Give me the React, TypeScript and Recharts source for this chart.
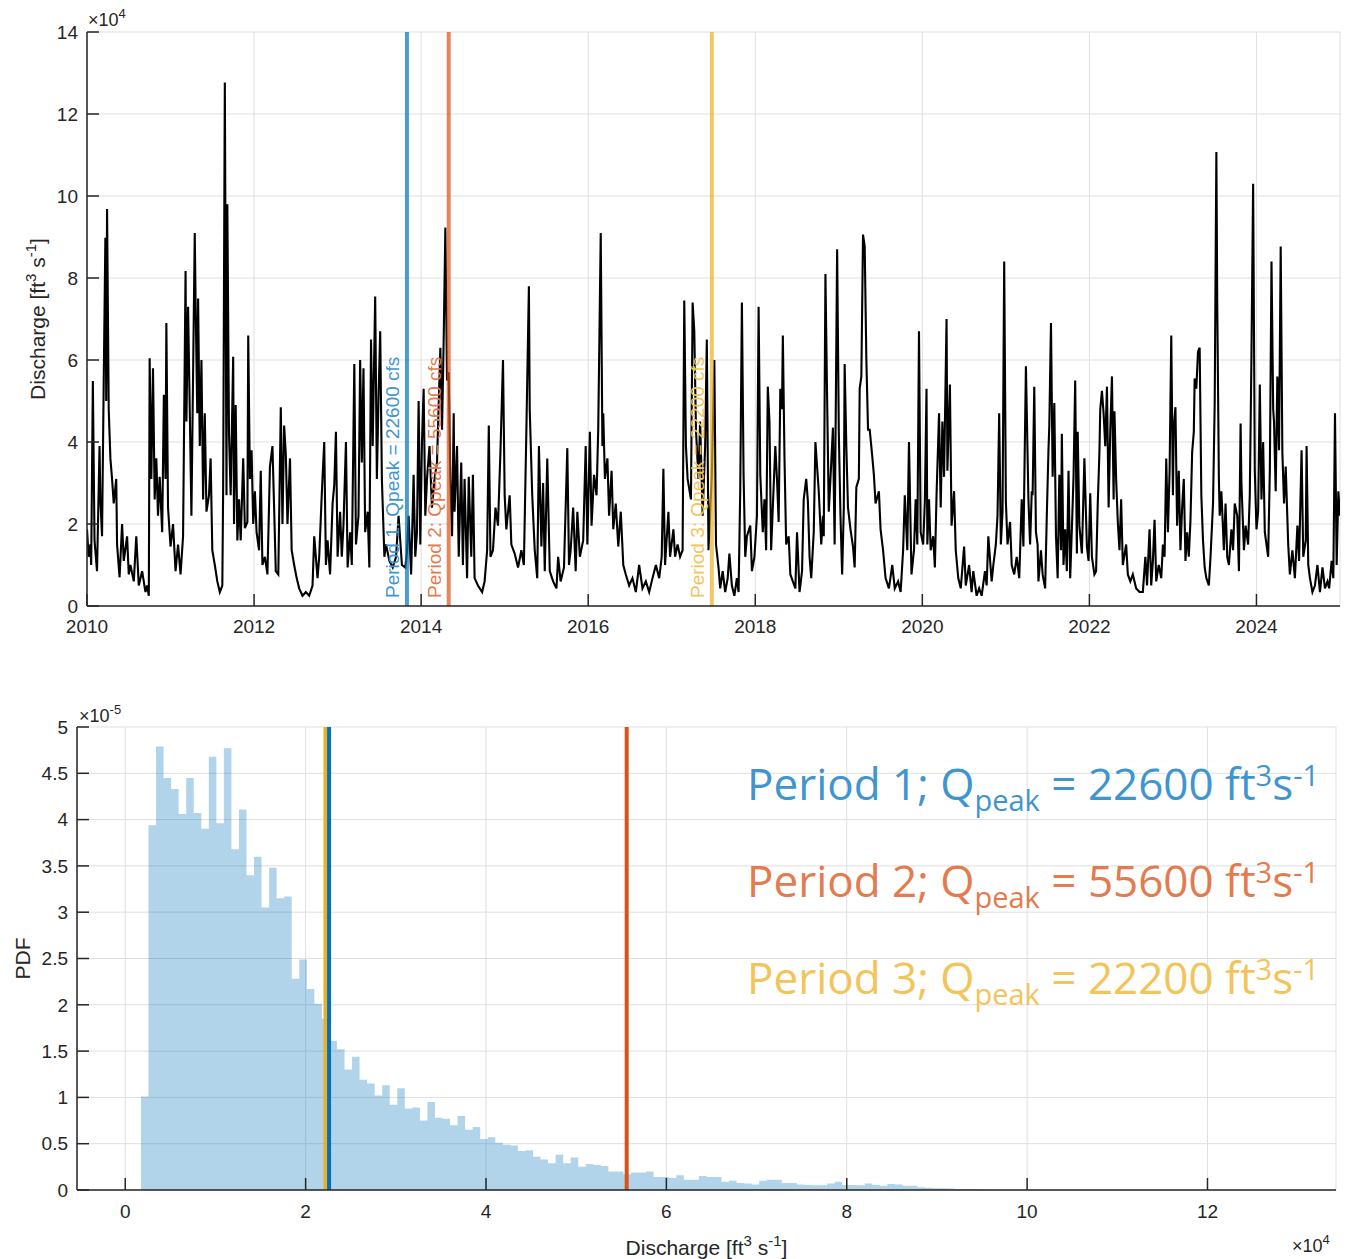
import { LineChart, Line, ComposedChart, Area, XAxis, YAxis, CartesianGrid, ReferenceLine } from 'recharts';

// ---- top panel: daily discharge (x = decimal year, y = discharge in 10^4 ft3/s)
const YEAR_TICKS = [2010, 2012, 2014, 2016, 2018, 2020, 2022, 2024];
const Q_TICKS = [0, 2, 4, 6, 8, 10, 12, 14];
const HYDRO: [number, number][] = [
  [2010.00,1.87],[2010.02,1.2],[2010.04,1.5],[2010.05,1.0],[2010.07,5.49],[2010.09,1.6],[2010.12,0.85],[2010.15,3.9],
  [2010.16,2.6],[2010.18,1.7],[2010.20,5.45],[2010.22,8.98],[2010.23,5.0],[2010.24,9.68],[2010.26,4.8],[2010.28,3.6],
  [2010.30,3.1],[2010.32,2.5],[2010.35,3.1],[2010.36,1.5],[2010.39,0.7],[2010.42,2.0],[2010.44,1.1],[2010.48,1.7],
  [2010.50,0.77],[2010.52,1.0],[2010.56,0.6],[2010.59,1.7],[2010.62,0.5],[2010.66,0.85],[2010.70,0.34],[2010.72,0.5],
  [2010.74,0.25],[2010.75,6.04],[2010.77,3.1],[2010.79,5.8],[2010.81,2.6],[2010.83,3.6],[2010.85,2.2],[2010.87,3.15],
  [2010.90,1.8],[2010.92,5.15],[2010.94,3.1],[2010.95,6.9],[2010.97,2.4],[2011.00,1.45],[2011.03,2.0],[2011.06,0.85],
  [2011.09,1.5],[2011.12,0.77],[2011.15,1.7],[2011.18,8.17],[2011.19,4.5],[2011.21,7.3],[2011.23,4.8],[2011.25,2.2],
  [2011.29,9.1],[2011.30,7.4],[2011.32,4.7],[2011.33,7.5],[2011.35,3.9],[2011.37,6.0],[2011.39,2.6],[2011.41,4.7],
  [2011.43,2.3],[2011.46,2.7],[2011.48,3.6],[2011.50,1.36],[2011.53,1.0],[2011.56,0.6],[2011.59,0.34],[2011.62,0.5],
  [2011.63,2.9],[2011.65,12.77],[2011.67,2.7],[2011.68,9.8],[2011.70,4.2],[2011.72,2.7],[2011.75,6.08],[2011.76,2.0],
  [2011.78,4.9],[2011.80,1.6],[2011.82,2.6],[2011.84,1.6],[2011.87,3.6],[2011.89,1.9],[2011.92,2.05],[2011.93,6.6],
  [2011.95,3.1],[2011.97,3.8],[2011.99,2.0],[2012.01,2.8],[2012.03,1.8],[2012.06,1.36],[2012.08,3.3],[2012.10,1.0],
  [2012.13,1.2],[2012.16,0.77],[2012.19,3.4],[2012.22,3.9],[2012.24,2.4],[2012.26,0.85],[2012.29,0.77],[2012.32,4.85],
  [2012.34,2.0],[2012.36,4.4],[2012.38,3.7],[2012.40,2.0],[2012.43,3.6],[2012.45,1.36],[2012.48,1.0],[2012.51,0.68],
  [2012.54,0.43],[2012.58,0.25],[2012.62,0.34],[2012.66,0.25],[2012.70,0.5],[2012.72,1.7],[2012.76,0.68],[2012.78,1.2],
  [2012.81,2.7],[2012.84,4.0],[2012.86,1.0],[2012.88,1.6],[2012.91,0.77],[2012.94,2.5],[2012.96,2.95],[2012.98,4.25],
  [2013.00,1.2],[2013.03,2.3],[2013.05,1.2],[2013.07,1.96],[2013.10,4.0],[2013.12,0.94],[2013.15,1.8],[2013.17,1.0],
  [2013.20,5.9],[2013.22,1.5],[2013.25,2.2],[2013.27,6.0],[2013.29,3.5],[2013.31,5.8],[2013.33,1.8],[2013.36,2.3],
  [2013.38,0.94],[2013.40,6.5],[2013.42,3.9],[2013.45,7.55],[2013.47,3.1],[2013.49,5.1],[2013.51,6.7],[2013.53,3.1],
  [2013.56,1.2],[2013.58,1.5],[2013.62,1.1],[2013.66,0.94],[2013.70,1.2],[2013.73,2.2],[2013.77,1.0],[2013.81,0.94],
  [2013.83,1.3],[2013.85,2.2],[2013.88,0.77],[2013.91,3.2],[2013.93,1.2],[2013.95,1.8],[2013.97,5.0],[2013.99,1.5],
  [2014.01,4.0],[2014.03,5.3],[2014.05,2.2],[2014.07,3.1],[2014.10,3.9],[2014.13,2.4],[2014.16,3.1],[2014.19,3.5],
  [2014.23,6.3],[2014.25,4.3],[2014.27,6.5],[2014.29,9.23],[2014.31,5.5],[2014.33,5.7],[2014.35,3.1],[2014.37,1.7],
  [2014.39,4.7],[2014.40,2.3],[2014.43,3.9],[2014.45,1.2],[2014.48,3.5],[2014.50,1.0],[2014.52,3.1],[2014.55,0.68],
  [2014.57,3.15],[2014.60,1.2],[2014.62,3.2],[2014.64,0.68],[2014.68,0.5],[2014.73,0.34],[2014.76,0.6],[2014.79,1.36],
  [2014.81,4.4],[2014.83,1.2],[2014.86,1.36],[2014.89,2.4],[2014.92,1.96],[2014.95,3.8],[2014.98,6.0],[2015.00,2.7],
  [2015.02,1.87],[2015.06,2.7],[2015.08,1.5],[2015.12,1.28],[2015.16,0.94],[2015.20,1.36],[2015.23,1.0],[2015.26,4.3],
  [2015.29,7.8],[2015.30,4.8],[2015.33,2.7],[2015.36,1.36],[2015.39,0.68],[2015.41,3.9],[2015.44,1.45],[2015.46,3.0],
  [2015.48,0.85],[2015.51,3.6],[2015.54,0.85],[2015.58,0.6],[2015.62,0.43],[2015.64,1.2],[2015.67,0.6],[2015.71,0.94],
  [2015.75,3.85],[2015.77,1.0],[2015.79,1.36],[2015.82,2.4],[2015.85,0.85],[2015.87,2.3],[2015.90,1.2],[2015.94,1.6],
  [2015.97,3.9],[2015.99,1.5],[2016.02,4.25],[2016.04,1.96],[2016.07,3.2],[2016.10,2.7],[2016.12,4.3],[2016.15,9.1],
  [2016.17,3.9],[2016.18,4.7],[2016.20,3.1],[2016.23,3.6],[2016.25,2.2],[2016.28,3.3],[2016.30,1.87],[2016.33,2.5],
  [2016.36,1.45],[2016.39,2.3],[2016.42,1.0],[2016.45,0.77],[2016.49,0.5],[2016.53,0.68],[2016.57,0.34],[2016.61,1.0],
  [2016.65,0.43],[2016.69,0.6],[2016.73,0.34],[2016.77,0.68],[2016.81,1.0],[2016.85,0.68],[2016.88,1.2],[2016.90,3.35],
  [2016.92,1.0],[2016.96,2.3],[2016.98,1.2],[2017.02,1.87],[2017.04,1.2],[2017.07,1.5],[2017.10,1.2],[2017.13,1.36],
  [2017.15,7.45],[2017.17,3.9],[2017.19,3.1],[2017.23,2.6],[2017.25,7.4],[2017.27,6.7],[2017.29,4.3],[2017.32,3.1],
  [2017.34,4.5],[2017.37,2.2],[2017.40,3.9],[2017.42,6.5],[2017.44,1.36],[2017.48,3.2],[2017.51,6.0],[2017.53,1.5],
  [2017.56,0.94],[2017.58,0.43],[2017.61,0.85],[2017.64,0.34],[2017.67,0.68],[2017.69,1.28],[2017.72,0.5],[2017.75,0.25],
  [2017.78,0.68],[2017.80,0.34],[2017.82,2.8],[2017.84,7.4],[2017.86,3.2],[2017.88,1.2],[2017.90,1.7],[2017.94,1.96],
  [2017.96,0.85],[2017.99,1.2],[2018.02,2.2],[2018.04,7.3],[2018.06,3.2],[2018.09,1.8],[2018.11,2.6],[2018.13,1.36],
  [2018.15,5.35],[2018.17,4.5],[2018.19,1.36],[2018.21,2.4],[2018.24,3.9],[2018.26,3.1],[2018.28,2.05],[2018.30,5.3],
  [2018.32,4.8],[2018.33,6.6],[2018.35,3.6],[2018.37,1.5],[2018.40,1.7],[2018.42,0.77],[2018.45,0.6],[2018.48,0.43],
  [2018.50,1.8],[2018.53,0.34],[2018.56,0.85],[2018.58,2.6],[2018.61,3.1],[2018.63,2.55],[2018.65,1.2],[2018.67,0.68],
  [2018.70,1.8],[2018.72,4.0],[2018.74,3.4],[2018.76,2.8],[2018.79,1.5],[2018.81,2.2],[2018.82,1.7],[2018.84,8.1],
  [2018.86,5.1],[2018.88,2.3],[2018.90,3.1],[2018.93,4.35],[2018.95,1.5],[2018.98,8.7],[2019.00,4.25],[2019.02,2.2],
  [2019.04,0.77],[2019.06,2.4],[2019.07,5.9],[2019.09,3.9],[2019.11,2.4],[2019.14,1.87],[2019.17,1.45],[2019.19,0.94],
  [2019.21,2.9],[2019.24,3.1],[2019.25,5.3],[2019.27,5.6],[2019.29,9.06],[2019.31,8.77],[2019.33,6.0],[2019.35,4.3],
  [2019.37,4.3],[2019.40,3.66],[2019.42,3.2],[2019.44,2.5],[2019.48,2.8],[2019.50,1.87],[2019.53,1.36],[2019.56,0.68],
  [2019.60,0.43],[2019.64,1.0],[2019.67,0.43],[2019.71,0.6],[2019.74,0.34],[2019.77,1.36],[2019.79,2.7],[2019.82,1.36],
  [2019.84,4.0],[2019.87,0.77],[2019.90,1.36],[2019.92,2.6],[2019.94,1.5],[2019.96,6.7],[2019.98,1.8],[2020.01,1.5],
  [2020.03,2.55],[2020.05,5.3],[2020.06,1.5],[2020.08,2.6],[2020.10,1.36],[2020.13,1.7],[2020.15,0.94],[2020.17,2.7],
  [2020.20,4.7],[2020.22,2.4],[2020.24,4.5],[2020.26,3.15],[2020.29,7.0],[2020.30,3.3],[2020.33,5.4],[2020.35,1.96],
  [2020.38,2.8],[2020.40,1.36],[2020.43,0.68],[2020.46,0.43],[2020.50,1.45],[2020.52,0.5],[2020.56,1.0],[2020.59,0.34],
  [2020.61,0.85],[2020.65,0.25],[2020.68,0.43],[2020.71,0.25],[2020.75,0.85],[2020.77,0.5],[2020.79,1.7],[2020.83,0.6],
  [2020.85,1.0],[2020.88,1.5],[2020.90,2.2],[2020.92,4.7],[2020.94,1.5],[2020.96,2.3],[2020.98,8.4],[2021.00,2.55],
  [2021.02,1.5],[2021.05,2.05],[2021.07,1.0],[2021.10,0.77],[2021.13,1.2],[2021.16,0.68],[2021.19,2.6],[2021.21,1.45],
  [2021.24,5.85],[2021.27,2.6],[2021.29,1.5],[2021.31,2.8],[2021.32,2.7],[2021.34,5.35],[2021.36,1.8],[2021.38,1.5],
  [2021.39,0.6],[2021.42,1.36],[2021.44,0.77],[2021.47,0.43],[2021.49,2.2],[2021.51,3.8],[2021.52,4.4],[2021.54,6.9],
  [2021.56,3.15],[2021.58,4.95],[2021.60,1.7],[2021.62,0.68],[2021.64,3.2],[2021.66,1.36],[2021.67,4.2],[2021.69,1.0],
  [2021.71,1.87],[2021.73,0.85],[2021.75,3.3],[2021.77,0.68],[2021.79,1.87],[2021.81,3.15],[2021.83,5.5],[2021.85,1.28],
  [2021.86,4.25],[2021.88,1.96],[2021.91,1.28],[2021.93,2.8],[2021.94,3.6],[2021.97,1.45],[2021.99,1.1],[2022.01,2.75],
  [2022.03,1.2],[2022.06,0.77],[2022.08,0.85],[2022.10,2.5],[2022.12,3.75],[2022.13,4.8],[2022.15,5.25],[2022.17,4.7],
  [2022.19,3.9],[2022.21,5.35],[2022.23,2.4],[2022.25,4.3],[2022.27,5.6],[2022.29,2.6],[2022.30,4.75],[2022.32,3.1],
  [2022.34,2.05],[2022.36,1.36],[2022.38,2.6],[2022.40,1.0],[2022.44,1.5],[2022.46,0.77],[2022.49,0.6],[2022.52,0.77],
  [2022.56,0.43],[2022.60,0.34],[2022.64,0.34],[2022.67,1.2],[2022.69,0.5],[2022.72,1.87],[2022.74,0.5],[2022.76,1.1],
  [2022.78,2.1],[2022.80,0.6],[2022.83,1.0],[2022.86,0.68],[2022.88,1.5],[2022.90,1.2],[2022.92,3.6],[2022.94,1.8],
  [2022.96,3.3],[2022.98,6.6],[2023.00,2.7],[2023.01,4.35],[2023.03,4.85],[2023.05,1.96],[2023.07,3.3],[2023.09,1.36],
  [2023.11,2.4],[2023.13,3.1],[2023.15,1.1],[2023.17,1.8],[2023.19,1.2],[2023.21,2.1],[2023.23,3.75],[2023.25,4.25],
  [2023.26,5.55],[2023.28,5.3],[2023.30,6.2],[2023.32,6.3],[2023.34,2.7],[2023.36,1.6],[2023.38,0.94],[2023.40,0.68],
  [2023.43,0.5],[2023.45,1.2],[2023.48,2.5],[2023.50,4.95],[2023.52,11.07],[2023.53,7.5],[2023.55,3.1],[2023.56,2.2],
  [2023.58,2.8],[2023.61,1.36],[2023.63,2.5],[2023.65,1.2],[2023.67,1.0],[2023.70,1.87],[2023.72,1.36],[2023.74,2.5],
  [2023.77,2.2],[2023.79,0.85],[2023.81,4.45],[2023.82,3.0],[2023.85,1.36],[2023.87,1.96],[2023.90,1.5],[2023.92,2.7],
  [2023.94,6.1],[2023.96,10.3],[2023.98,3.3],[2024.00,1.87],[2024.02,2.3],[2024.04,5.4],[2024.06,2.6],[2024.08,4.0],
  [2024.10,1.8],[2024.12,1.5],[2024.14,1.2],[2024.16,3.3],[2024.18,8.4],[2024.20,4.8],[2024.21,4.5],[2024.23,2.8],
  [2024.25,5.6],[2024.27,3.8],[2024.29,8.77],[2024.31,3.75],[2024.33,2.5],[2024.35,3.4],[2024.38,1.5],[2024.40,0.77],
  [2024.43,1.36],[2024.46,0.68],[2024.49,1.96],[2024.51,1.1],[2024.54,3.8],[2024.56,1.2],[2024.59,1.6],[2024.60,3.9],
  [2024.62,1.0],[2024.64,0.68],[2024.67,0.34],[2024.70,0.5],[2024.73,1.0],[2024.76,0.34],[2024.79,0.94],[2024.82,0.43],
  [2024.85,0.6],[2024.87,0.43],[2024.90,1.1],[2024.92,0.68],[2024.94,4.7],[2024.96,1.0],[2024.98,2.8],[2025.00,2.2],
];

// ---- the three periods
const PERIOD_NAMES = ['Period 1', 'Period 2', 'Period 3'];
const PERIOD_DATES = [2013.83, 2014.33, 2017.48];
const PERIOD_QPEAK = [22600, 55600, 22200];
const PERIOD_COLORS = ['#0072BD', '#D95319', '#EDB120'];
const PERIOD_TEXT_COLORS = ['#3F95CF', '#E37B4E', '#F2C45A'];

// ---- bottom panel: histogram of discharge (pdf in 10^-5 per ft3/s)
const BIN_START = 1740;
const BIN_WIDTH = 836;
const PDF_VALUES = [
  1.01, 3.94, 4.79, 4.45, 4.33, 4.06, 4.45, 4.07, 3.90, 4.68, 3.96, 4.77, 3.68, 4.11, 3.40, 3.60,
  3.05, 3.48, 3.15, 3.17, 2.28, 2.49, 2.17, 2.01, 1.85, 1.61, 1.52, 1.30, 1.44, 1.19, 1.15, 1.02,
  1.13, 0.92, 1.10, 0.88, 0.89, 0.75, 0.95, 0.78, 0.77, 0.70, 0.80, 0.65, 0.68, 0.55, 0.57, 0.51,
  0.49, 0.48, 0.42, 0.43, 0.36, 0.33, 0.29, 0.38, 0.29, 0.35, 0.25, 0.28, 0.27, 0.26, 0.20, 0.20,
  0.17, 0.19, 0.19, 0.20, 0.14, 0.14, 0.13, 0.16, 0.11, 0.11, 0.15, 0.14, 0.14, 0.09, 0.10, 0.075,
  0.07, 0.06, 0.10, 0.11, 0.11, 0.075, 0.075, 0.06, 0.055, 0.05, 0.05, 0.07, 0.09, 0.055, 0.055, 0.05,
  0.07, 0.055, 0.045, 0.065, 0.06, 0.045, 0.045, 0.03, 0.025, 0.02, 0.02, 0.015, 0.01, 0.01, 0.01, 0.005,
];
const PDF_TICKS = [0, 0.5, 1, 1.5, 2, 2.5, 3, 3.5, 4, 4.5, 5];
const DISCHARGE_TICKS = [0, 20000, 40000, 60000, 80000, 100000, 120000];

const FONT = "'Liberation Sans', Arial, Helvetica, sans-serif";
const INK = '#262626';
const GRID = '#DFDFDF';

const hydroData = HYDRO.map(([t, q]) => ({ t, q }));
const pdfData = [
  ...PDF_VALUES.map((v, i) => ({ x: BIN_START + i * BIN_WIDTH, pdf: v })),
  { x: BIN_START + PDF_VALUES.length * BIN_WIDTH, pdf: PDF_VALUES[PDF_VALUES.length - 1] },
];

function DischargeTitle({ x, y, rotate }: { x: number; y: number; rotate?: boolean }) {
  return (
    <text x={x} y={y} textAnchor="middle" fontSize={21} fill={INK}
      transform={rotate ? `rotate(-90 ${x} ${y})` : undefined}>
      Discharge [ft<tspan fontSize={15} dy={-9}>3</tspan><tspan dy={9}> s</tspan>
      <tspan fontSize={15} dy={-9}>-1</tspan><tspan dy={9}>]</tspan>
    </text>
  );
}

const periodLabel = (text: string, color: string) => (props: any) => {
  const vb = props.viewBox || {};
  const x = vb.x - 8;
  const y = vb.y + vb.height - 8;
  return (
    <text x={x} y={y} transform={`rotate(-90 ${x} ${y})`} fill={color} fontSize={19}>
      {text}
    </text>
  );
};

function PeakText({ y, i }: { y: number; i: number }) {
  return (
    <text x={747} y={y} fill={PERIOD_TEXT_COLORS[i]} fontSize={44} fontFamily="'Open Sans', sans-serif">
      {PERIOD_NAMES[i]}; Q<tspan fontSize={29} dy={11}>peak</tspan>
      <tspan dy={-11}> = {PERIOD_QPEAK[i]} ft</tspan>
      <tspan fontSize={29} dy={-14}>3</tspan><tspan dy={14}>s</tspan>
      <tspan fontSize={29} dy={-14}>-1</tspan>
    </text>
  );
}

export default function App() {
  const axisStyle = { stroke: INK, strokeWidth: 1.5 };
  return (
    <div style={{ position: 'absolute', left: 0, top: 0, width: 1352, height: 1259, background: '#fff', fontFamily: FONT, overflow: 'hidden' }}>
      <div style={{ position: 'absolute', left: 0, top: 0 }}>
        <LineChart width={1352} height={650} data={hydroData} margin={{ top: 32, right: 12, left: 0, bottom: 0 }}>
          <CartesianGrid stroke={GRID} />
          <XAxis type="number" dataKey="t" domain={[2010, 2025]} ticks={YEAR_TICKS} allowDataOverflow
            height={44} axisLine={axisStyle} tickLine={axisStyle} tickSize={-12} tickMargin={26}
            tick={{ fontSize: 19, fill: INK }} />
          <YAxis type="number" domain={[0, 14]} ticks={Q_TICKS} allowDataOverflow width={87}
            axisLine={axisStyle} tickLine={axisStyle} tickSize={-12} tickMargin={21}
            tick={{ fontSize: 19, fill: INK }}
            label={(p: any) => <DischargeTitle x={p.viewBox.x + 45} y={p.viewBox.y + p.viewBox.height / 2} rotate />} />
          <Line type="linear" dataKey="q" stroke="#000" strokeWidth={2.1} strokeLinejoin="miter" dot={false} isAnimationActive={false} />
          {PERIOD_DATES.map((d, i) => (
            <ReferenceLine key={d} x={d} stroke={PERIOD_COLORS[i]} strokeOpacity={0.7} strokeWidth={4}
              label={periodLabel(`${PERIOD_NAMES[i]}: Qpeak = ${PERIOD_QPEAK[i]} cfs`, PERIOD_TEXT_COLORS[i])} />
          ))}
        </LineChart>
      </div>

      <div style={{ position: 'absolute', left: 0, top: 650 }}>
        <ComposedChart width={1352} height={609} data={pdfData} margin={{ top: 77, right: 16, left: 0, bottom: 0 }}>
          <CartesianGrid stroke={GRID} />
          <XAxis type="number" dataKey="x" domain={[-5350, 134250]} ticks={DISCHARGE_TICKS} allowDataOverflow
            height={69} axisLine={axisStyle} tickLine={axisStyle} tickSize={-12} tickMargin={27}
            tick={{ fontSize: 19, fill: INK }} tickFormatter={(v: number) => String(v / 10000)}
            label={(p: any) => <DischargeTitle x={p.viewBox.x + p.viewBox.width / 2} y={p.viewBox.y + 65} />} />
          <YAxis type="number" domain={[0, 5]} ticks={PDF_TICKS} allowDataOverflow width={77}
            axisLine={axisStyle} tickLine={axisStyle} tickSize={-12} tickMargin={21}
            tick={{ fontSize: 19, fill: INK }}
            label={(p: any) => {
              const x = p.viewBox.x + 30;
              const y = p.viewBox.y + p.viewBox.height / 2;
              return <text x={x} y={y} textAnchor="middle" fontSize={21} fill={INK} transform={`rotate(-90 ${x} ${y})`}>PDF</text>;
            }} />
          <Area type="stepAfter" dataKey="pdf" fill="#0072BD" fillOpacity={0.3} stroke="none"
            isAnimationActive={false} activeDot={false} />
          {[2, 0, 1].map(i => (
            <ReferenceLine key={i} x={PERIOD_QPEAK[i]} stroke={PERIOD_COLORS[i]} strokeWidth={4} />
          ))}
        </ComposedChart>
      </div>

      <svg width={1352} height={1259} style={{ position: 'absolute', left: 0, top: 0, pointerEvents: 'none' }}>
        <text x={88} y={26} fontSize={18} fill={INK}>×10<tspan fontSize={13} dy={-8}>4</tspan></text>
        <text x={79} y={722} fontSize={18} fill={INK}>×10<tspan fontSize={13} dy={-8}>-5</tspan></text>
        <text x={1292} y={1252} fontSize={18} fill={INK}>×10<tspan fontSize={13} dy={-8}>4</tspan></text>
        <PeakText y={800} i={0} />
        <PeakText y={897} i={1} />
        <PeakText y={994} i={2} />
      </svg>
    </div>
  );
}
